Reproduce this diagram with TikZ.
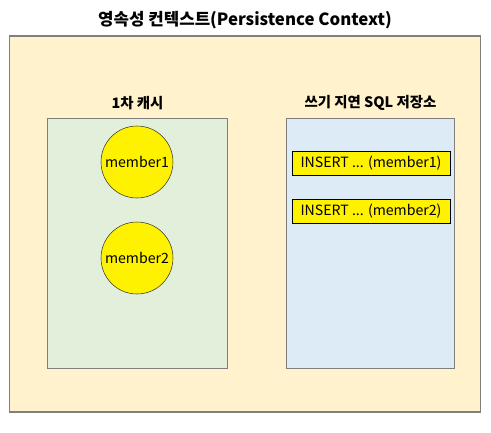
\documentclass[tikz,border=0pt]{standalone}
\usepackage{fontspec}
\setmainfont{Noto Sans CJK KR}
\definecolor{ctxfill}{HTML}{FFF2CC}
\definecolor{cachefill}{HTML}{E2EFDA}
\definecolor{sqlfill}{HTML}{DDEBF7}
\definecolor{boxline}{HTML}{7F7F7F}

\begin{document}
\begin{tikzpicture}[x=0.75pt, y=-0.75pt,
  area/.style={draw=boxline, line width=0.9pt, inner sep=0pt},
  member/.style={circle, draw=black!80, fill=yellow, minimum size=54pt, inner sep=0pt, font=\fontsize{10.6}{12}\selectfont},
  query/.style={draw=black, fill=yellow, minimum width=118.5pt, minimum height=18pt, inner sep=0pt, font=\fontsize{10.6}{12}\selectfont},
  heading/.style={font=\bfseries\fontsize{10.8}{13}\selectfont}]
\useasboundingbox (0,0) rectangle (491,432);
% outer context
\node[area, fill=ctxfill, minimum width=353pt, minimum height=282pt] (ctx) at (245,224) {};
\node[font=\bfseries\fontsize{12.6}{15}\selectfont] (title) at (245,20) {영속성 컨텍스트(Persistence Context)};
% first-level cache
\node[area, fill=cachefill, minimum width=135pt, minimum height=188pt] (cache) at (137.5,243.5) {};
\node[heading] (cachelabel) at (137.5,103) {1차 캐시};
\node[member] (m1) at (137,162) {member1};
\node[member] (m2) at (137,258) {member2};
% write-behind sql store
\node[area, fill=sqlfill, minimum width=126pt, minimum height=188pt] (store) at (370.5,243.5) {};
\node[heading] (storelabel) at (370.5,103) {쓰기 지연 SQL 저장소};
\node[query] (q1) at (371,163) {INSERT ... (member1)};
\node[query] (q2) at (371,211) {INSERT ... (member2)};
\end{tikzpicture}
\end{document}
